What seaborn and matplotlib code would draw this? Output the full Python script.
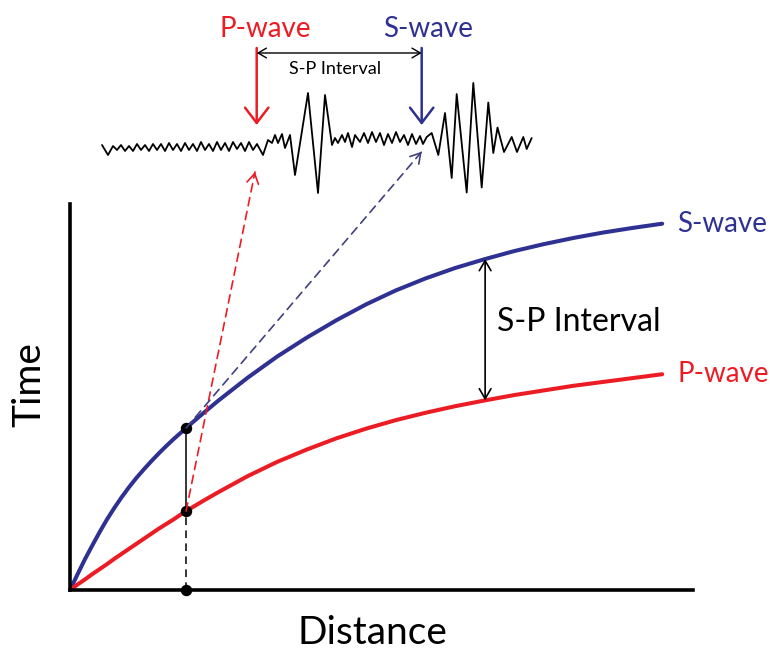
import numpy as np
import pandas as pd
import matplotlib
matplotlib.use('Agg')
import matplotlib.pyplot as plt
import seaborn as sns
from matplotlib.patches import ConnectionPatch

# travel-time curves
distance = [0, 0.125, 0.25, 0.375, 0.5, 0.625, 0.75, 0.875, 1.0, 1.125, 1.25,
            1.375, 1.5, 1.625, 1.75, 1.875, 2.0, 2.25, 2.5, 3.0, 3.5, 4.0, 4.5,
            5.0, 5.5, 6.0, 6.5, 7.0, 7.5, 8.0, 8.5, 9.0, 9.5, 10.0]
s_time = [0, 0.40, 0.79, 1.15, 1.50, 1.83, 2.13, 2.41, 2.67, 2.91, 3.13,
          3.34, 3.54, 3.73, 3.91, 4.08, 4.25, 4.58, 4.90, 5.50, 6.05, 6.54, 6.99,
          7.40, 7.76, 8.07, 8.34, 8.57, 8.78, 8.96, 9.12, 9.26, 9.38, 9.49]
p_time = [0, 0.14, 0.27, 0.41, 0.54, 0.67, 0.81, 0.94, 1.07, 1.20, 1.33,
          1.46, 1.59, 1.71, 1.83, 1.96, 2.08, 2.31, 2.53, 2.95, 3.32, 3.64, 3.93,
          4.18, 4.40, 4.59, 4.76, 4.91, 5.05, 5.17, 5.29, 5.39, 5.49, 5.59]

station = 1.96      # station distance (dots)
interval_at = 7.01  # where the big S-P arrow sits

# seismogram trace (time, amplitude)
seis_t = [0.2, 0.8, 1.3, 1.7, 2.1, 2.5, 2.9, 3.3, 3.7, 4.1, 4.5, 4.9, 5.3, 5.7,
          6.1, 6.5, 6.9, 7.3, 7.7, 8.1, 8.5, 8.9, 9.3, 9.7, 10.1, 10.5, 10.9,
          11.3, 11.7, 12.1, 12.5, 12.9, 13.3, 13.7, 14.1, 14.5, 14.9, 15.3, 15.7,
          16.3,
          16.8, 17.2, 17.5, 17.8, 18.2, 18.5, 19.0, 19.5, 20.8, 21.8, 22.5, 23.2,
          23.5, 23.8, 24.2, 24.5, 24.8, 25.2, 25.5, 26.0,
          26.4, 26.8, 27.2, 27.6, 28.0, 28.4, 28.8, 29.2, 29.6, 30.0, 30.4, 30.8,
          31.2, 31.6, 32.0, 32.3, 32.67, 33.17,
          33.83, 34.5, 35.17, 35.67, 36.67, 37.33, 38.17, 38.83, 39.33, 39.75,
          40.4, 41.17, 41.7, 42.33, 42.67, 43.17]
seis_amp = [0.0, -1.0, -0.1, -0.5, 0.0, -0.6, -0.1, -0.6, 0.1, -0.5, 0.0, -0.6,
            0.1, -0.5, 0.1, -0.6, 0.2, -0.5, 0.1, -0.6, 0.2, -0.5, 0.1, -0.6,
            0.3, -0.5, 0.1, -0.6, 0.3, -0.5, 0.2, -0.6, 0.3, -0.4, 0.2, -0.6,
            0.3, -0.5, 0.1, -1.0,
            0.5, 0.2, 1.0, 0.2, 1.1, -0.3, 1.0, -3.0, 5.2, -4.8, 5.0, 0.0,
            0.7, 0.2, 1.0, 0.3, 1.2, -0.2, 1.0, 0.3,
            1.2, 0.2, 1.3, 0.3, 1.2, 0.0, 1.1, 0.2, 1.3, 0.3, 1.0, 0.0,
            1.1, 0.1, 0.9, 0.1, 0.8, 1.2,
            -1.0, 3.2, -3.3, 5.1, -4.75, 6.2, -4.25, 4.25, -0.8, 1.75,
            -0.7, 0.8, -0.7, 0.8, -0.4, 0.7]
p_arrival = 15.67
s_arrival = 32.17
p_tip = (15.5, -2.7)
s_tip = (32.17, -0.67)

RED = '#ec1c24'
BLUE = '#2e3192'
BLUE_DASH = '#40407f'

sns.set_theme(style='white')
plt.rcParams['font.family'] = ['Lato', 'DejaVu Sans']

fig = plt.figure(figsize=(7.7, 6.52), dpi=100)
ax = fig.add_axes([70 / 770, 62 / 652, 623 / 770, 386 / 652])
ax_s = fig.add_axes([90 / 770, 452 / 652, 460 / 770, 200 / 652])

curves = pd.DataFrame({
    'Distance': distance + distance,
    'Time': s_time + p_time,
    'wave': ['S-wave'] * len(distance) + ['P-wave'] * len(distance),
})
sns.lineplot(data=curves, x='Distance', y='Time', hue='wave',
             palette={'S-wave': BLUE, 'P-wave': RED}, lw=2.9,
             estimator=None, sort=False, legend=False, ax=ax)

ax.set_xlim(0, 10.52)
ax.set_ylim(0, 10)
ax.set_xticks([])
ax.set_yticks([])
sns.despine(ax=ax)
for side in ['left', 'bottom']:
    ax.spines[side].set_color('black')
    ax.spines[side].set_linewidth(2.6)

ax.set_xlabel('Distance', fontsize=28, color='black')
ax.set_ylabel('Time', fontsize=28, color='black')
ax.xaxis.label.set_va('baseline')
ax.yaxis.label.set_va('baseline')
ax.xaxis.set_label_coords(0.485, -0.140)
ax.yaxis.set_label_coords(-0.048, 0.531)

# curve labels
ax.text(10.25, s_time[-1], 'S-wave', color=BLUE, fontsize=20, va='center')
ax.text(10.25, p_time[-1], 'P-wave', color=RED, fontsize=20, va='center')

# S-P interval between the curves
s_iv = np.interp(interval_at, distance, s_time)
p_iv = np.interp(interval_at, distance, p_time)
ax.annotate('', xy=(interval_at, s_iv), xytext=(interval_at, p_iv),
            arrowprops=dict(arrowstyle='<->,head_length=0.6,head_width=0.35',
                            lw=1.2, color='black', mutation_scale=12,
                            shrinkA=0, shrinkB=0))
ax.text(interval_at + 0.2, (s_iv + p_iv) / 2 + 0.2, 'S-P Interval',
        fontsize=23, va='center', ha='left', color='black')

# station
s_st = np.interp(station, distance, s_time)
p_st = np.interp(station, distance, p_time)
ax.plot([station, station], [p_st, s_st], color='black', lw=1.1)
ax.plot([station, station], [0, p_st], color='black', lw=1.1, ls=(0, (5, 3.5)))
ax.scatter([station] * 3, [s_st, p_st, 0], s=52, color='black', zorder=5,
           clip_on=False)

# seismogram
sns.lineplot(x=seis_t, y=seis_amp, color='black', lw=1.3, estimator=None,
             sort=False, ax=ax_s)
ax_s.set_xlim(-1, 45)
ax_s.set_ylim(-5.5, 14.5)
ax_s.axis('off')

for t, lab_t, label, color in [(p_arrival, 16.5, 'P-wave', RED),
                               (s_arrival, 32.8, 'S-wave', BLUE)]:
    ax_s.annotate('', xy=(t, 2.0), xytext=(t, 9.7),
                  arrowprops=dict(arrowstyle='->,head_length=0.55,head_width=0.42',
                                  lw=1.8, color=color, mutation_scale=20,
                                  shrinkA=0, shrinkB=0))
    ax_s.text(lab_t, 10.8, label, color=color, fontsize=20, ha='center',
              va='baseline')

ax_s.annotate('', xy=(p_arrival, 9.2), xytext=(s_arrival, 9.2),
              arrowprops=dict(arrowstyle='<->,head_length=0.6,head_width=0.35',
                              lw=1.0, color='black', mutation_scale=10,
                              shrinkA=0, shrinkB=0))
ax_s.text((p_arrival + s_arrival) / 2 - 0.4, 7.1, 'S-P Interval', fontsize=13,
          ha='center', va='baseline', color='black')

# dashed links from station to arrivals
for y0, tip, color in [(p_st, p_tip, RED), (s_st, s_tip, BLUE_DASH)]:
    con = ConnectionPatch(xyA=(station, y0), coordsA=ax.transData,
                          xyB=tip, coordsB=ax_s.transData,
                          color=color, lw=1.2, linestyle=(0, (5, 3.5)))
    fig.add_artist(con)
    p0 = ax.transData.transform((station, y0))
    p1 = ax_s.transData.transform(tip)
    v = (p1 - p0) / np.hypot(*(p1 - p0))
    back = p1 - v * 3
    ax_s.annotate('', xy=tip, xytext=tuple(back), textcoords='figure pixels',
                  arrowprops=dict(arrowstyle='->,head_length=0.5,head_width=0.3',
                                  lw=1.2, color=color, mutation_scale=14,
                                  shrinkA=0, shrinkB=0))

fig.savefig('out.png', dpi=100)
